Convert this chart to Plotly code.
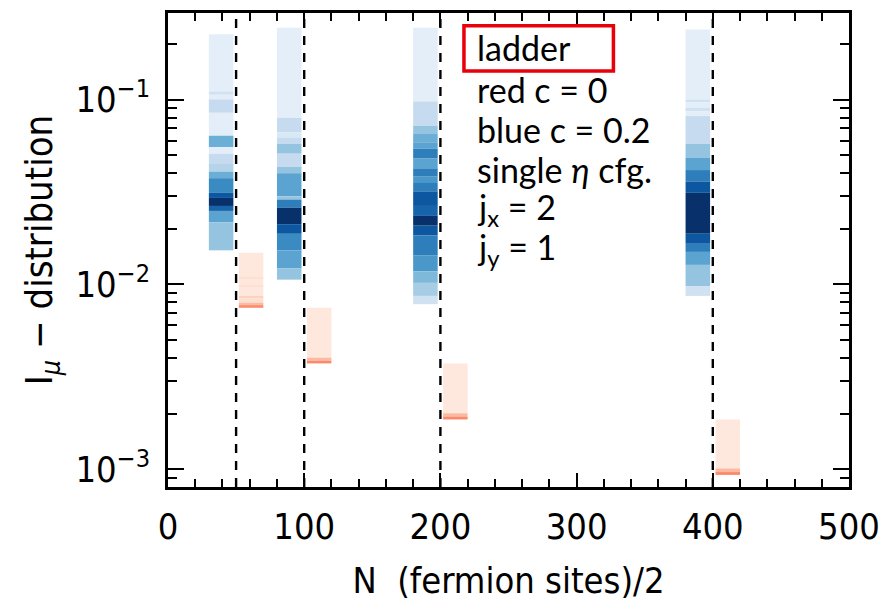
import plotly.graph_objects as go
import plotly.colors as pc

# System sizes N/2 (dashed reference lines) and bar geometry
sizes = [50, 100, 200, 400]
bar_offset = 11
bar_width = 18

# c = 0.2 (blue): histogram bin edges of I_mu (top to bottom) and counts per bin
blue_edges_50 = [0.2258, 0.1107, 0.1063, 0.1004, 0.0849, 0.0638, 0.0553, 0.0510,
                 0.0453, 0.0408, 0.0376, 0.0313, 0.0294, 0.0266, 0.0250, 0.0217, 0.0153]
blue_counts_50 = [2, 4, 2, 5, 2, 10, 2, 5, 6, 10, 13, 17, 20, 16, 11, 8]

blue_edges_100 = [0.2451, 0.0798, 0.0665, 0.0625, 0.0577, 0.0510, 0.0433, 0.0400,
                  0.0300, 0.0288, 0.0260, 0.0212, 0.0188, 0.0153, 0.01225, 0.01062]
blue_counts_100 = [2, 5, 3, 5, 8, 5, 8, 11, 8, 14, 20, 17, 13, 11, 8]

blue_edges_200 = [0.2451, 0.0979, 0.0722, 0.0652, 0.0588, 0.0543, 0.0480, 0.0425,
                  0.0383, 0.0354, 0.0319, 0.0266, 0.0235, 0.0208, 0.0184, 0.0144,
                  0.01177, 0.0102, 0.00867, 0.00782]
blue_counts_200 = [2, 5, 8, 10, 11, 14, 11, 14, 12, 14, 17, 16, 20, 17, 14, 12, 9, 7, 4]

blue_edges_400 = [0.2400, 0.1000, 0.0968, 0.0902, 0.0867, 0.0815, 0.0577, 0.0484,
                  0.0416, 0.0361, 0.0313, 0.0188, 0.0166, 0.0150, 0.01276, 0.0098, 0.00867]
blue_counts_400 = [2, 4, 2, 4, 2, 5, 8, 11, 14, 17, 20, 17, 14, 11, 8, 4]

# c = 0 (red)
red_edges_50 = [0.01484, 0.01084, 0.01071, 0.00987, 0.00971, 0.00867, 0.00839,
                0.00798, 0.00773, 0.00748]
red_counts_50 = [1.5, 2.5, 1.5, 2.5, 1.5, 3.5, 2.5, 5, 8]

red_edges_100 = [0.00748, 0.00402, 0.00387, 0.00374]
red_counts_100 = [1.5, 5, 8]

red_edges_200 = [0.00374, 0.00201, 0.00193, 0.00186]
red_counts_200 = [1.5, 5, 8]

red_edges_400 = [0.00186, 0.00101, 0.000966, 0.000932]
red_counts_400 = [1.5, 5, 8]

count_max = 20

blue_sets = [blue_edges_50, blue_edges_100, blue_edges_200, blue_edges_400]
blue_cnts = [blue_counts_50, blue_counts_100, blue_counts_200, blue_counts_400]
red_sets = [red_edges_50, red_edges_100, red_edges_200, red_edges_400]
red_cnts = [red_counts_50, red_counts_100, red_counts_200, red_counts_400]

y_ticks = [1e-3, 1e-2, 1e-1]
y_ticktext = ["10<sup>\u22123</sup>", "10<sup>\u22122</sup>", "10<sup>\u22121</sup>"]
x_ticks = [0, 100, 200, 300, 400, 500]

info_lines = ["red c = 0", "blue c = 0.2", "single <i>\u03b7</i> cfg.",
              "j<sub>x</sub> = 2", "j<sub>y</sub> = 1"]


def histogram_bars(sets, counts, shift, scale):
    xs, bases, heights, cols = [], [], [], []
    for n, edges, cnt in zip(sizes, sets, counts):
        for i, c in enumerate(cnt):
            top, bottom = edges[i], edges[i + 1]
            xs.append(n + shift)
            bases.append(bottom)
            heights.append(top - bottom)
            cols.append(c)
    return go.Bar(
        x=xs, y=heights, base=bases, width=bar_width,
        marker=dict(color=cols, colorscale=scale, cmin=0, cmax=count_max,
                    showscale=False, line=dict(width=0)),
        hoverinfo="skip",
    )


fig = go.Figure()
fig.add_trace(histogram_bars(blue_sets, blue_cnts, -bar_offset, pc.sequential.Blues))
fig.add_trace(histogram_bars(red_sets, red_cnts, bar_offset, pc.sequential.Reds))

for n in sizes:
    fig.add_shape(type="line", x0=n, x1=n, y0=0, y1=1, xref="x", yref="paper",
                  line=dict(color="black", width=2.4, dash="9px,8px"))

tick_font = dict(family="Liberation Sans Narrow, DejaVu Sans Condensed, Arial",
                 size=36, color="black")
ytitle_font = dict(tick_font, size=38)
text_font = dict(family="Lato, Open Sans, sans-serif", size=34, color="black")

# frame geometry in pixels (for the text block)
L, R, T, B = 168, 856, 10, 493


def px(xp):
    return (xp - L) / (R - L)


def py(yp):
    return (B - yp) / (B - T)


fig.add_shape(type="rect", xref="paper", yref="paper",
              x0=px(467), x1=px(618), y0=py(69), y1=py(23),
              line=dict(color="#e8000b", width=3.5))
fig.add_annotation(text="ladder", xref="paper", yref="paper", x=px(478), y=py(45),
                   xanchor="left", yanchor="middle", showarrow=False, font=text_font)
for i, line in enumerate(info_lines):
    fig.add_annotation(text=line, xref="paper", yref="paper", x=px(478),
                       y=py(88 + 40.5 * i), xanchor="left", yanchor="middle",
                       showarrow=False, font=text_font)

fig.update_layout(
    width=890, height=604,
    margin=dict(l=L, r=890 - R, t=T, b=604 - B),
    plot_bgcolor="white", paper_bgcolor="white",
    showlegend=False, barmode="overlay",
)
fig.update_xaxes(
    range=[0, 500], tickmode="array", tickvals=x_ticks,
    ticks="inside", ticklen=14, tickwidth=2, tickcolor="black",
    minor=dict(dtick=20, tick0=0, ticks="inside", ticklen=8, tickwidth=2, tickcolor="black"),
    showline=True, linewidth=2.5, linecolor="black", mirror="allticks",
    showgrid=False, zeroline=False, tickfont=tick_font, ticklabelstandoff=6,
    title=dict(text="N  (fermion sites)/2", font=tick_font, standoff=22),
)
fig.update_yaxes(
    type="log", range=[-3.096, -0.531], tickmode="array",
    tickvals=y_ticks, ticktext=y_ticktext,
    ticks="inside", ticklen=16, tickwidth=2, tickcolor="black",
    minor=dict(dtick="D1", ticks="inside", ticklen=9, tickwidth=2, tickcolor="black"),
    showline=True, linewidth=2.5, linecolor="black", mirror="allticks",
    showgrid=False, zeroline=False, tickfont=tick_font, ticklabelstandoff=8,
    title=dict(text="I<sub><i>\u03bc</i></sub> \u2212 distribution", font=ytitle_font,
               standoff=12),
)

fig.write_html("out.html")
